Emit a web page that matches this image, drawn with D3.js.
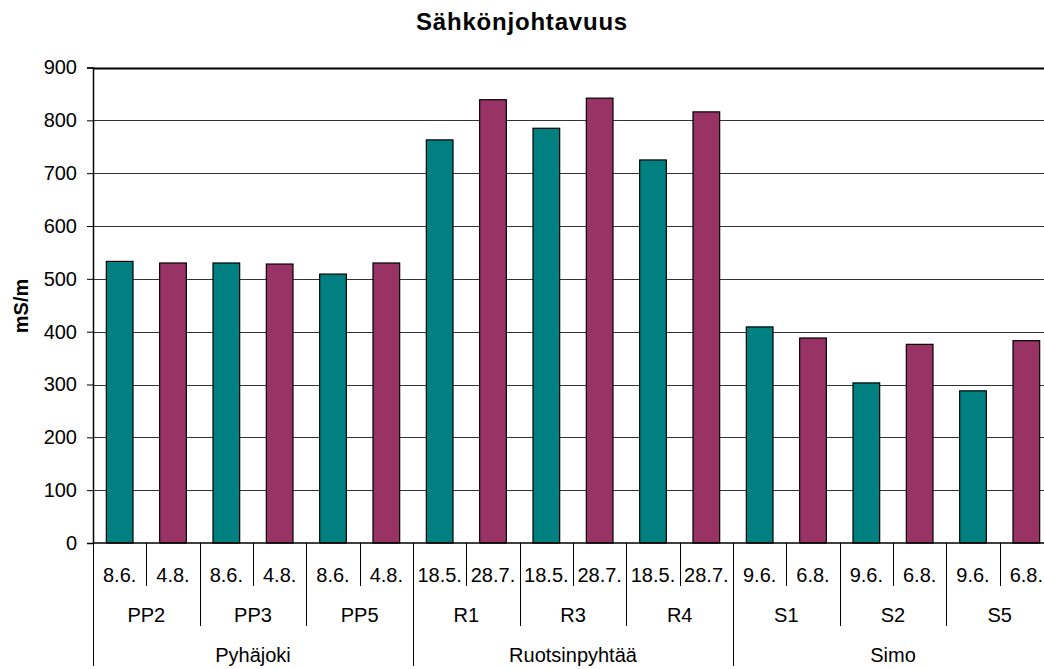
<!DOCTYPE html>
<html>
<head>
<meta charset="utf-8">
<script src="https://cdn.jsdelivr.net/npm/d3@7"></script>
<style>
  body { margin: 0; background: #fff; }
  svg { display: block; font-family: "Liberation Sans", Arial, sans-serif; }
</style>
</head>
<body>
<div id="content"></div>
<script>
// Chart size
const width = 1044;
const height = 669;

// Data: one pair of measurements per site
const groups = ["Pyhäjoki", "Ruotsinpyhtää", "Simo"];
const sites = ["PP2", "PP3", "PP5", "R1", "R3", "R4", "S1", "S2", "S5"];
const siteGroup = ["Pyhäjoki", "Pyhäjoki", "Pyhäjoki",
  "Ruotsinpyhtää", "Ruotsinpyhtää", "Ruotsinpyhtää", "Simo", "Simo", "Simo"];
const firstDates = ["8.6.", "8.6.", "8.6.", "18.5.", "18.5.", "18.5.", "9.6.", "9.6.", "9.6."];
const secondDates = ["4.8.", "4.8.", "4.8.", "28.7.", "28.7.", "28.7.", "6.8.", "6.8.", "6.8."];
const firstValues = [533, 530, 509, 763, 785, 725, 409, 303, 288];
const secondValues = [530, 528, 530, 839, 842, 816, 388, 376, 383];
const yTicks = [0, 100, 200, 300, 400, 500, 600, 700, 800, 900];

const colors = ["#008080", "#993366"];

// Flatten into 18 category cells
const cells = [];
sites.forEach((s, i) => {
  cells.push({ site: s, group: siteGroup[i], date: firstDates[i], value: firstValues[i], series: 0 });
  cells.push({ site: s, group: siteGroup[i], date: secondDates[i], value: secondValues[i], series: 1 });
});

// Plot area (the original runs off the right edge of the picture)
const plotLeft = 93, plotRight = 1053, plotTop = 67.5, plotBottom = 543;

const x = d3.scaleBand()
  .domain(d3.range(cells.length))
  .range([plotLeft, plotRight])
  .paddingInner(0.5)
  .paddingOuter(0.25);
const step = x.step();

const y = d3.scaleLinear()
  .domain([0, 900])
  .range([plotBottom, plotTop]);

const svg = d3.select("#content")
  .append("svg")
  .attr("width", width)
  .attr("height", height);

// Title
svg.append("text")
  .attr("x", 522)
  .attr("y", 30)
  .attr("text-anchor", "middle")
  .style("font-size", "24px")
  .style("font-weight", "bold")
  .style("letter-spacing", "0.8px")
  .text("Sähkönjohtavuus");

// Gridlines
svg.append("g")
  .selectAll("line")
  .data(yTicks.filter(d => d > 0))
  .enter().append("line")
  .attr("x1", plotLeft).attr("x2", plotRight)
  .attr("y1", d => Math.round(y(d)) + 0.5)
  .attr("y2", d => Math.round(y(d)) + 0.5)
  .attr("stroke", d => d === 900 ? "#000" : "#333")
  .attr("stroke-width", d => d === 900 ? 2 : 1);

// Y axis
const yAxis = svg.append("g")
  .attr("transform", `translate(${plotLeft},0)`)
  .call(d3.axisLeft(y).tickValues(yTicks).tickSize(6).tickPadding(10));
yAxis.select(".domain").attr("stroke", "#000").attr("stroke-width", 1.5);
yAxis.selectAll(".tick line").attr("stroke", "#000");
yAxis.selectAll("text")
  .style("font-size", "20px")
  .style("font-family", "'Liberation Sans', Arial, sans-serif")
  .attr("fill", "#000");

svg.append("text")
  .attr("transform", "translate(28,306) rotate(-90)")
  .attr("text-anchor", "middle")
  .style("font-size", "20px")
  .style("font-weight", "bold")
  .text("mS/m");

// Bars
svg.append("g")
  .selectAll("rect")
  .data(cells)
  .enter().append("rect")
  .attr("x", (d, i) => x(i))
  .attr("width", x.bandwidth())
  .attr("y", d => y(d.value))
  .attr("height", d => y(0) - y(d.value))
  .attr("fill", d => colors[d.series])
  .attr("stroke", "#000")
  .attr("stroke-width", 1.2);

// X axis line
svg.append("line")
  .attr("x1", plotLeft).attr("x2", plotRight)
  .attr("y1", plotBottom).attr("y2", plotBottom)
  .attr("stroke", "#000").attr("stroke-width", 1.5);

// Multi-level category labels
const cat = svg.append("g").style("font-size", "20px");
const cellLeft = i => plotLeft + i * step;

// separators: depth depends on the level that changes at that boundary
d3.range(cells.length + 1).forEach(i => {
  let y2 = 586;
  if (i % 2 === 0) y2 = 626;
  if (i === 0 || i === cells.length || cells[i].group !== cells[i - 1].group) y2 = 666;
  const xx = Math.round(cellLeft(i)) + 0.5;
  cat.append("line")
    .attr("x1", xx).attr("x2", xx)
    .attr("y1", plotBottom).attr("y2", y2)
    .attr("stroke", "#000");
});

// date labels
cat.selectAll("text.date")
  .data(cells)
  .enter().append("text")
  .attr("class", "date")
  .attr("x", (d, i) => cellLeft(i) + step / 2)
  .attr("y", 582)
  .attr("text-anchor", "middle")
  .text(d => d.date);

// site labels
cat.selectAll("text.site")
  .data(sites)
  .enter().append("text")
  .attr("class", "site")
  .attr("x", (d, i) => cellLeft(i * 2) + step)
  .attr("y", 622)
  .attr("text-anchor", "middle")
  .text(d => d);

// group labels
cat.selectAll("text.group")
  .data(groups)
  .enter().append("text")
  .attr("class", "group")
  .attr("x", g => {
    const idx = cells.map((c, i) => c.group === g ? i : -1).filter(i => i >= 0);
    return (cellLeft(idx[0]) + cellLeft(idx[idx.length - 1] + 1)) / 2;
  })
  .attr("y", 662)
  .attr("text-anchor", "middle")
  .text(d => d);
</script>
</body>
</html>
